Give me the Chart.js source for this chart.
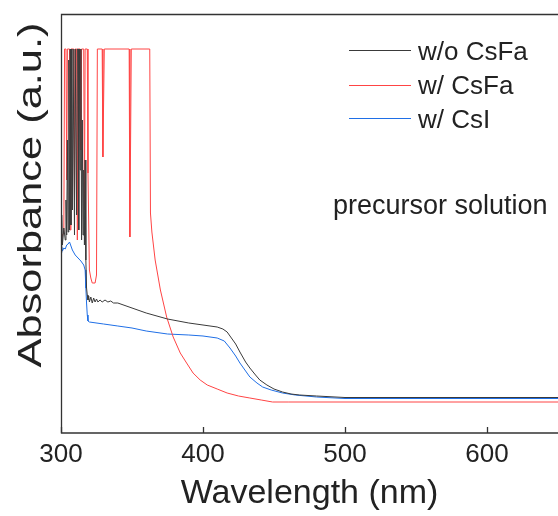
<!DOCTYPE html>
<html><head><meta charset="utf-8">
<script src="https://cdn.jsdelivr.net/npm/chart.js@4.4.1/dist/chart.umd.min.js"></script>
<style>html,body{margin:0;padding:0;background:#fff;overflow:hidden}#wrap{width:558px;height:516px;position:relative}</style>
</head><body><div id="wrap"><canvas id="c"></canvas></div>
<script>
// ---- data ----
const seriesLabels = ['w/o CsFa', 'w/ CsFa', 'w/ CsI'];
const xTickValues = [300, 400, 500, 600];
const xTitle = 'Wavelength (nm)';
const yTitle = 'Absorbance (a.u.)';
const noteText = 'precursor solution';

const woCsFaWl  = [300,300.5,301,302,303,303.5,304,304.5,305,305.5,306,306.5,307,307.5,308,308.5,309,309.5,310,310.5,311,311.5,312,312.5,313,313.5,314,314.5,315,315.5,316,316.5,317,317.5,318,318.5,319,319.5,320,321,322,323,324,325,326,327.5,329,331,333,335,337,340,350,360,375,390,400,410,414,417,420,423,426,430,433,437,440,445,450,456,462,468,480,500,550,600,650];
const woCsFaAbs = [1.81,2.18,1.88,2.05,1.93,2.33,1.98,2.93,2.01,3.73,2.03,3.84,2.08,3.84,2.23,3.84,3.84,1.98,3.84,3.84,2.18,3.84,3.84,2.03,3.84,2.63,3.84,1.93,3.13,1.98,2.63,1.88,2.73,1.73,1.45,1.38,1.33,1.37,1.31,1.36,1.30,1.35,1.31,1.34,1.31,1.33,1.31,1.33,1.31,1.32,1.30,1.30,1.25,1.20,1.14,1.10,1.08,1.06,1.04,1.01,0.95,0.89,0.81,0.71,0.65,0.58,0.53,0.48,0.44,0.41,0.39,0.38,0.37,0.355,0.355,0.355,0.355];

const wCsFaWl  = [300,301,302,302.5,303.5,304,304.5,306,306.5,307,309,309.5,310,311,311.5,312,313.5,314,314.5,316,316.5,317,318.5,319,320,321,322,324,325,325.6,329,329.5,330.5,348,348.5,349.5,362.5,363,364,366.3,370,374.4,379,384,388,393,398,403,410,417,425,433,441,449,460,500,550,600,650];
const wCsFaAbs = [1.93,1.98,2.0,3.84,3.84,2.53,3.84,3.84,2.03,3.84,3.84,2.33,3.84,3.84,1.93,3.84,3.84,2.83,3.84,3.84,2.23,3.84,3.84,2.6,1.63,1.55,1.50,1.50,1.58,3.84,3.84,2.76,3.84,3.84,1.96,3.84,3.84,2.20,2.01,1.73,1.43,1.16,0.96,0.80,0.71,0.60,0.53,0.48,0.44,0.40,0.37,0.35,0.33,0.31,0.31,0.31,0.31,0.31,0.31];

const wCsIWl  = [300,300.5,301,302,303,304,305,306,307,308,310,312,314,316,317,317.5,318,318.5,319,320,330,340,350,360,375,390,400,410,415,419,423,426,430,433,438,442,448,456,465,480,500,550,600,650];
const wCsIAbs = [1.80,1.86,1.82,1.85,1.84,1.88,1.89,1.91,1.87,1.83,1.78,1.75,1.72,1.68,1.63,1.45,1.30,1.18,1.12,1.11,1.09,1.07,1.05,1.02,0.99,0.98,0.97,0.95,0.92,0.85,0.77,0.70,0.62,0.56,0.50,0.46,0.43,0.40,0.38,0.36,0.345,0.345,0.345,0.345];

const seriesColors = ['#3a3a3a', '#ff4444', '#1f6fe6'];

// ---- build ----
function pts(xs, ys) { return xs.map((x, i) => ({x: x, y: ys[i]})); }
const FONT = "'Liberation Sans', Arial, sans-serif";

const decor = {
  id: 'decor',
  afterDatasetsDraw(chart) {
    const ctx = chart.ctx, a = chart.chartArea, xs = chart.scales.x;
    ctx.save();
    ctx.strokeStyle = '#333';
    ctx.lineWidth = 1.3;
    ctx.beginPath();
    ctx.moveTo(chart.width + 2, a.top + 0.5);
    ctx.lineTo(a.left + 0.5, a.top + 0.5);
    ctx.lineTo(a.left + 0.5, a.bottom);
    ctx.lineTo(chart.width + 2, a.bottom);
    ctx.stroke();
    // inward ticks
    xTickValues.forEach(v => {
      const px = Math.round(xs.getPixelForValue(v)) + 0.5;
      ctx.beginPath();
      ctx.moveTo(px, a.bottom);
      ctx.lineTo(px, a.bottom - 6);
      ctx.stroke();
    });
    // legend
    ctx.font = '26px ' + FONT;
    ctx.textBaseline = 'alphabetic';
    const lineY = [50, 85, 118];
    const textY = [59.5, 94, 128];
    chart.data.datasets.forEach((ds, i) => {
      ctx.strokeStyle = ds.borderColor;
      ctx.lineWidth = 1.2;
      ctx.beginPath();
      ctx.moveTo(349, lineY[i] + 0.5);
      ctx.lineTo(411, lineY[i] + 0.5);
      ctx.stroke();
      ctx.fillStyle = '#222';
      ctx.fillText(ds.label, 418, textY[i]);
    });
    // note
    ctx.font = '27px ' + FONT;
    ctx.fillText(noteText, 333, 214);
    // y title, stretched along its length
    ctx.font = '33px ' + FONT;
    const w = ctx.measureText(yTitle).width;
    ctx.translate(41, 195);
    ctx.rotate(-Math.PI / 2);
    ctx.scale(345 / w, 1);
    ctx.textAlign = 'center';
    ctx.textBaseline = 'alphabetic';
    ctx.fillText(yTitle, 0, 0);
    ctx.restore();
  }
};

new Chart(document.getElementById('c'), {
  type: 'line',
  data: {
    datasets: [
      {label: seriesLabels[0], data: pts(woCsFaWl, woCsFaAbs), borderColor: seriesColors[0]},
      {label: seriesLabels[1], data: pts(wCsFaWl, wCsFaAbs), borderColor: seriesColors[1]},
      {label: seriesLabels[2], data: pts(wCsIWl, wCsIAbs), borderColor: seriesColors[2]}
    ]
  },
  options: {
    responsive: true,
    maintainAspectRatio: false,
    animation: false,
    devicePixelRatio: 1,
    layout: {padding: {left: 61, top: 14, right: 0, bottom: 0}},
    elements: {point: {radius: 0}, line: {borderWidth: 1, tension: 0, fill: false}},
    plugins: {legend: {display: false}, tooltip: {enabled: false}},
    scales: {
      x: {
        type: 'linear', min: 300, max: 650,
        afterBuildTicks: s => { s.ticks = xTickValues.map(v => ({value: v})); },
        afterFit: s => { s.height = 83; },
        grid: {display: false, drawTicks: false},
        border: {display: false},
        ticks: {font: {size: 26, family: FONT}, color: '#222', padding: 6, maxRotation: 0},
        title: {display: true, text: xTitle, font: {size: 34, family: FONT}, color: '#222', padding: {top: 0, bottom: 2}}
      },
      y: {display: false, min: 0, max: 4.19}
    }
  },
  plugins: [decor]
});
</script>
</body></html>
